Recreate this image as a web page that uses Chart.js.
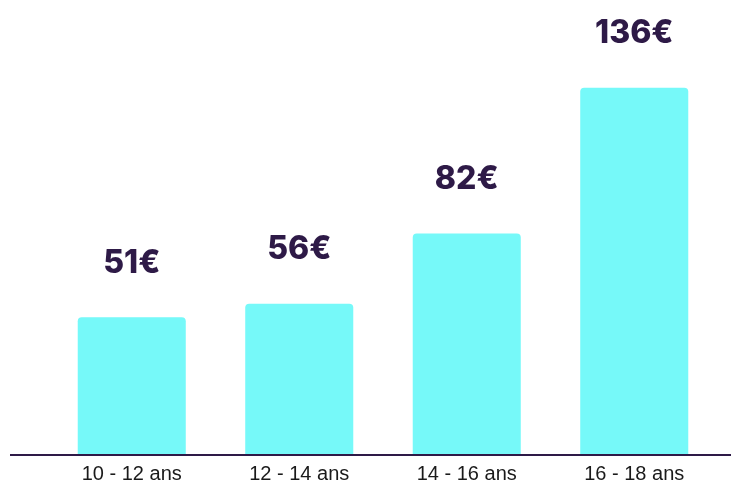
<!DOCTYPE html>
<html>
<head>
<meta charset="utf-8">
<script src="https://cdn.jsdelivr.net/npm/chart.js@4"></script>
<style>
  body { margin: 0; background: #fff; }
  #wrap { width: 731px; height: 487px; }
</style>
</head>
<body>
<div id="wrap"><canvas id="budgetChart"></canvas></div>
<script>
const ageGroups = ['10 - 12 ans', '12 - 14 ans', '14 - 16 ans', '16 - 18 ans'];
const amounts = [51, 56, 82, 136];
const amountLabels = ['51€', '56€', '82€', '136€'];

const purple = '#2e1a47';

// value labels above the bars + the long baseline
const barLabels = {
    id: 'barLabels',
    afterDatasetsDraw(chart) {
        const { ctx, chartArea } = chart;
        ctx.save();
        ctx.strokeStyle = purple;
        ctx.lineWidth = 2;
        ctx.beginPath();
        ctx.moveTo(10, chartArea.bottom);
        ctx.lineTo(chart.width, chartArea.bottom);
        ctx.stroke();

        ctx.fillStyle = purple;
        ctx.font = '800 32px Inter';
        ctx.textAlign = 'center';
        ctx.textBaseline = 'middle';
        chart.getDatasetMeta(0).data.forEach((bar, i) => {
            ctx.fillText(amountLabels[i], bar.x, bar.y - 54);
        });
        ctx.restore();
    },
};

const ctx = document.getElementById('budgetChart').getContext('2d');
const budgetChart = new Chart(ctx, {
    type: 'bar',
    data: {
        labels: ageGroups,
        datasets: [{
            data: amounts,
            backgroundColor: '#76f9f9',
            borderRadius: { topLeft: 4, topRight: 4 },
            borderSkipped: 'bottom',
            categoryPercentage: 1,
            barPercentage: 0.645,
        }],
    },
    options: {
        responsive: true,
        maintainAspectRatio: false,
        animation: false,
        layout: { padding: { left: 48, right: 13, top: 23, bottom: -6 } },
        plugins: {
            legend: { display: false },
            tooltip: { enabled: false },
        },
        scales: {
            x: {
                grid: { display: false, drawTicks: false },
                border: { display: false },
                ticks: {
                    color: '#1a1a1a',
                    padding: 7,
                    font: { family: 'Liberation Sans', size: 20 },
                },
            },
            y: { display: false, min: 0, max: 160 },
        },
    },
    plugins: [barLabels],
});
</script>
</body>
</html>
